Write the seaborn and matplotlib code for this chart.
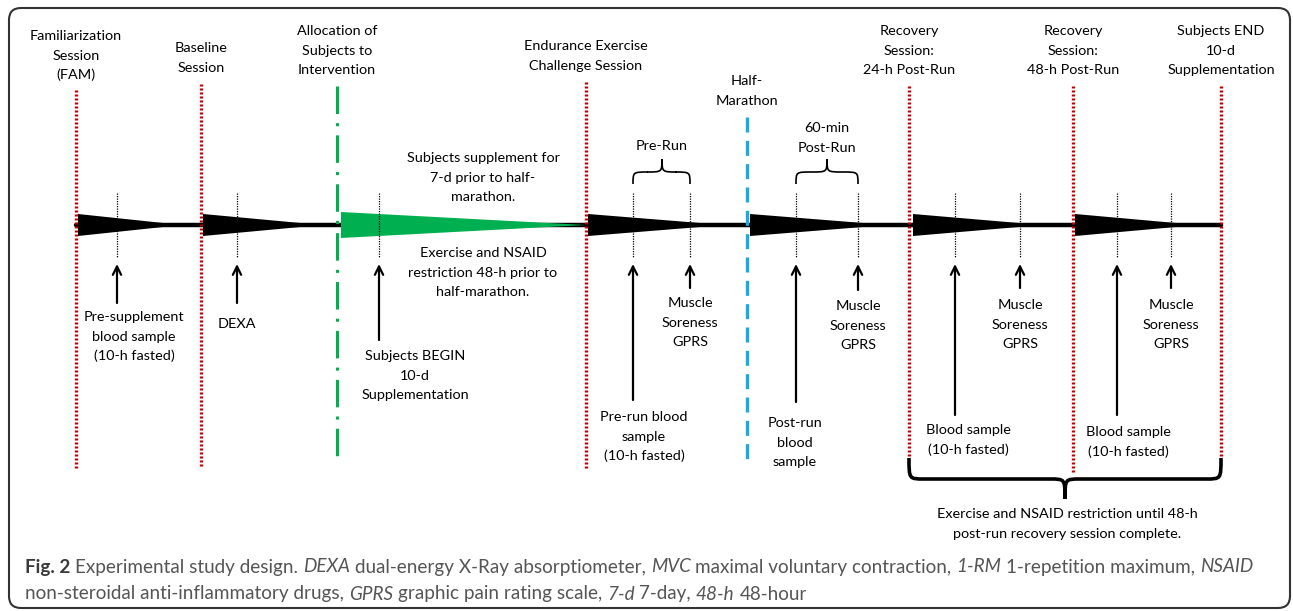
import numpy as np
import pandas as pd
import seaborn as sns
import matplotlib.pyplot as plt
from matplotlib.patches import FancyBboxPatch, Polygon, PathPatch
from matplotlib.path import Path

# ---- diagram content (pixel layout of the study timeline) ----
session_x = [76, 201, 586, 909, 1073, 1221]
session_top = [90, 84, 82, 86, 86, 86]
session_bottom = [468, 467, 470, 458, 472, 458]
session_labels = ["Familiarization\nSession\n(FAM)", "Baseline\nSession",
                  "Endurance Exercise\nChallenge Session",
                  "Recovery\nSession:\n24-h Post-Run", "Recovery\nSession:\n48-h Post-Run",
                  "Subjects END\n10-d\nSupplementation"]
session_label_y = [36, 48, 46, 31, 31, 31]

alloc_x = 337
alloc_label = "Allocation of\nSubjects to\nIntervention"
half_x = 747
half_label = "Half-\nMarathon"

wedge_start = [78, 203, 341, 588, 750, 913, 1075]
wedge_end = [182, 322, 586, 725, 888, 1042, 1198]
wedge_color = ["black", "black", "#00b050", "black", "black", "black", "black"]

event_x = [117, 237, 379, 633, 690, 796, 858, 955, 1020, 1117, 1171]
event_arrow_bottom = [303, 303, 340, 400, 288, 402, 290, 415, 288, 415, 288]
event_labels = ["Pre-supplement\nblood sample\n(10-h fasted)", "DEXA",
                "Subjects BEGIN\n10-d\nSupplementation",
                "Pre-run blood\nsample\n(10-h fasted)", "Muscle\nSoreness\nGPRS",
                "Post-run\nblood\nsample", "Muscle\nSoreness\nGPRS",
                "Blood sample\n(10-h fasted)", "Muscle\nSoreness\nGPRS",
                "Blood sample\n(10-h fasted)", "Muscle\nSoreness\nGPRS"]
event_label_x = [134, 237, 415, 644, 690, 795, 858, 968, 1020, 1128, 1171]
event_label_y = [317, 324, 356, 417, 303, 423, 306, 430, 305, 432, 305]

notes = ["Subjects supplement for\n7-d prior to half-\nmarathon.",
         "Exercise and NSAID\nrestriction 48-h prior to\nhalf-marathon.",
         "Exercise and NSAID restriction until 48-h\npost-run recovery session complete."]
note_xy = [(483, 158), (483, 253), (1067, 514)]

TL_Y = 225
LINE_H = 19.6
FONT = "Lato"
FS = 10.4

sns.set_theme(style="white")
plt.rcParams["font.family"] = [FONT, "DejaVu Sans"]

fig = plt.figure(figsize=(12.93, 6.11), dpi=100)
ax = fig.add_axes([0, 0, 1, 1])
ax.set_xlim(0, 1293)
ax.set_ylim(611, 0)
ax.axis("off")


def lines_text(x, y, s, **kw):
    for i, ln in enumerate(s.split("\n")):
        ax.text(x, y + i * LINE_H, ln, ha="center", va="center", fontsize=FS,
                color="black", **kw)


def brace(x0, x1, xc, y_base, y_h, y_tip, lw):
    r = min(abs(y_h - y_base), 10)
    verts = [(x0, y_base), (x0, y_h), (x0, y_h), (x0 + r * 1.5, y_h),
             (xc - r * 1.5, y_h), (xc, y_h), (xc, y_h), (xc, y_tip),
             (xc, y_h), (xc, y_h), (xc + r * 1.5, y_h),
             (x1 - r * 1.5, y_h), (x1, y_h), (x1, y_h), (x1, y_base)]
    codes = [Path.MOVETO, Path.CURVE4, Path.CURVE4, Path.CURVE4,
             Path.LINETO, Path.CURVE4, Path.CURVE4, Path.CURVE4,
             Path.CURVE4, Path.CURVE4, Path.CURVE4,
             Path.LINETO, Path.CURVE4, Path.CURVE4, Path.CURVE4]
    ax.add_patch(PathPatch(Path(verts, codes), fill=False, lw=lw, ec="black",
                           capstyle="butt"))


# outer frame
ax.add_patch(FancyBboxPatch((9, 8), 1281, 600, boxstyle="round,pad=0,rounding_size=12",
                            fill=False, ec="#333333", lw=1.5))

# main timeline
tl = pd.DataFrame({"x": [session_x[0], session_x[-1]], "y": [TL_Y, TL_Y]})
sns.lineplot(data=tl, x="x", y="y", ax=ax, color="black", lw=3.2, zorder=2)

# wedges
for x0, x1, c in zip(wedge_start, wedge_end, wedge_color):
    h = 13 if c != "black" else 11
    ax.add_patch(Polygon([(x0, TL_Y - h), (x0, TL_Y + h), (x1, TL_Y)], closed=True,
                         fc=c, ec="none", zorder=3))

# session lines
for x, t, b, lab, ly in zip(session_x, session_top, session_bottom, session_labels, session_label_y):
    ax.plot([x, x], [t, b], color="#c00000", lw=2.4, ls=(0, (0.6, 0.6)), zorder=4)
    lines_text(x, ly, lab)
ax.plot([alloc_x, alloc_x], [86, 463], color="#00b050", lw=2.2,
        ls=(0, (9, 3, 1, 3)), zorder=4)
lines_text(alloc_x, 31, alloc_label)
ax.plot([half_x, half_x], [117, 465], color="#1ca9e1", lw=2.4,
        ls=(0, (4.5, 2.5)), zorder=4)
lines_text(half_x, 81, half_label)

# events: dotted markers and arrows
for x, yb, lab, lx, ly in zip(event_x, event_arrow_bottom, event_labels, event_label_x, event_label_y):
    ax.plot([x, x], [193, 258], color="black", lw=0.9, ls=(0, (1, 1)), zorder=5)
    ax.annotate("", xy=(x, 264), xytext=(x, yb),
                arrowprops=dict(arrowstyle="->,head_length=0.5,head_width=0.25",
                                lw=1.6, color="black", shrinkA=0, shrinkB=0))
    lines_text(lx, ly, lab)

# braces
lines_text(662, 146, "Pre-Run")
brace(633, 690, 662, 184, 172, 159, 1.2)
lines_text(827, 128, "60-min\nPost-Run")
brace(796, 858, 827, 184, 172, 159, 1.2)
brace(909, 1221, 1065, 458, 479, 499, 2.6)

for s, (x, y) in zip(notes, note_xy):
    lines_text(x, y, s)

# caption with mixed styles
cap1 = [("Fig. 2", "bold"), ("Experimental study design.", "normal"), ("DEXA", "italic"),
        ("dual-energy X-Ray absorptiometer,", "normal"), ("MVC", "italic"),
        ("maximal voluntary contraction,", "normal"), ("1-RM", "italic"),
        ("1-repetition maximum,", "normal"), ("NSAID", "italic")]
cap2 = [("non-steroidal anti-inflammatory drugs,", "normal"), ("GPRS", "italic"),
        ("graphic pain rating scale,", "normal"), ("7-d", "italic"), ("7-day,", "normal"),
        ("48-h", "italic"), ("48-hour", "normal")]

renderer = fig.canvas.get_renderer()


def piece_width(s, style, fs):
    t = ax.text(0, 0, s, fontsize=fs, fontweight="bold" if style == "bold" else "normal",
                fontstyle="italic" if style == "italic" else "normal")
    w = t.get_window_extent(renderer).width
    t.remove()
    return w


def line_width(pieces, fs):
    sp = piece_width("x x", "normal", fs) - piece_width("xx", "normal", fs)
    return sum(piece_width(s, st, fs) for s, st in pieces) + sp * (len(pieces) - 1), sp


base_fs = 12.0
w, _ = line_width(cap1, base_fs)
cap_fs = base_fs * (1251 - 25) / w


def draw_caption(pieces, y):
    _, sp = line_width(pieces, cap_fs)
    x = 25
    for s, st in pieces:
        ax.text(x, y, s, fontsize=cap_fs, ha="left", va="center",
                color="#3a3a3a" if st == "bold" else "#555555",
                fontweight="bold" if st == "bold" else "normal",
                fontstyle="italic" if st == "italic" else "normal")
        x += piece_width(s, st, cap_fs) + sp


draw_caption(cap1, 567)
draw_caption(cap2, 594)

fig.savefig("out.png", dpi=100)
